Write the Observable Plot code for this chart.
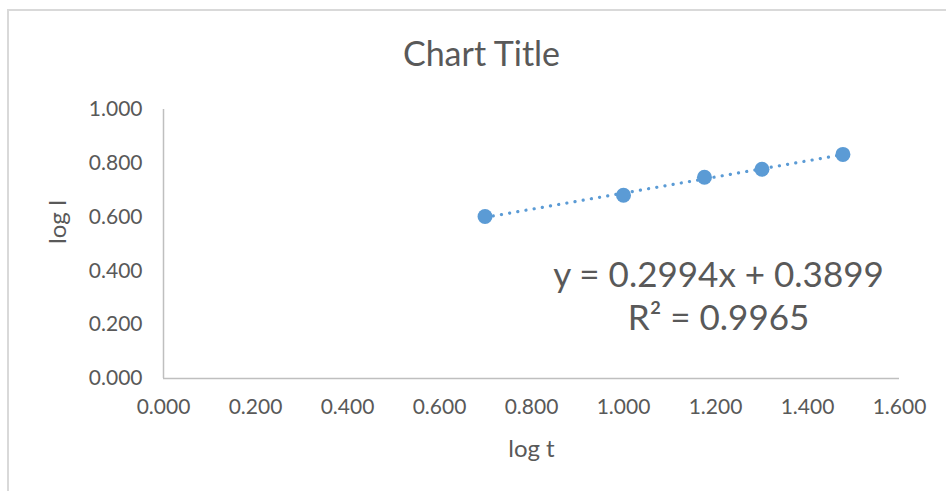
<!DOCTYPE html>
<html>
<head>
<meta charset="utf-8">
<script src="https://cdn.jsdelivr.net/npm/d3@7"></script>
<script src="https://cdn.jsdelivr.net/npm/@observablehq/plot@0.6"></script>
<style>
  html, body { margin: 0; padding: 0; background: #fff; overflow: hidden; }
  #wrap { position: relative; width: 946px; height: 491px; }
  #border { position: absolute; left: 7px; top: 9px; width: 960px; height: 520px; border: 2px solid #d9d9d9; box-sizing: border-box; }
  #chart { position: absolute; left: 0; top: 0; }
</style>
</head>
<body>
<div id="wrap"><div id="border"></div><div id="chart"></div></div>
<script>
const logT = [0.699, 1.000, 1.176, 1.301, 1.477];
const logI = [0.602, 0.681, 0.748, 0.778, 0.833];
const xTicks = [0, 0.2, 0.4, 0.6, 0.8, 1.0, 1.2, 1.4, 1.6];
const yTicks = [0, 0.2, 0.4, 0.6, 0.8, 1.0];
const titleText = "Chart Title";
const xLabel = "log t";
const yLabel = "log I";
const equationLines = ["y = 0.2994x + 0.3899", "R² = 0.9965"];

const data = logT.map((x, i) => ({x, y: logI[i]}));
const gray = "#595959";
const blue = "#5b9bd5";
const axisGray = "#bfbfbf";

const chart = Plot.plot({
  width: 946,
  height: 491,
  marginLeft: 163,
  marginRight: 47,
  marginTop: 109,
  marginBottom: 113,
  style: {fontFamily: "Lato", fontSize: "21px", color: gray, background: "transparent"},
  x: {domain: [0, 1.6], ticks: xTicks, tickFormat: d3.format(".3f"), tickSize: 0, tickPadding: 21, label: null},
  y: {domain: [0, 1], ticks: yTicks, tickFormat: d3.format(".3f"), tickSize: 0, tickPadding: 21, label: null},
  marks: [
    Plot.ruleX([0], {stroke: axisGray, strokeWidth: 1.5}),
    Plot.ruleY([0], {stroke: axisGray, strokeWidth: 1.5}),
    Plot.linearRegressionY(data, {x: "x", y: "y", ci: 0, stroke: blue, strokeWidth: 3.2, strokeDasharray: "0.1,8.2", strokeLinecap: "round"}),
    Plot.dot(data, {x: "x", y: "y", r: 7.5, fill: blue, stroke: "none"}),
    Plot.text([titleText], {frameAnchor: "top-left", dx: 318, dy: -44, lineAnchor: "bottom", textAnchor: "middle", fontSize: 34, fill: gray}),
    Plot.text([xLabel], {frameAnchor: "bottom", dy: 78, lineAnchor: "bottom", fontSize: 24, fill: gray}),
    Plot.text([yLabel], {frameAnchor: "left", dx: -105, rotate: -90, fontSize: 24, fill: gray}),
    Plot.text([equationLines.join("\n")], {frameAnchor: "top-left", dx: 555, dy: 147, lineAnchor: "top", textAnchor: "middle", fontSize: 35, lineHeight: 1.23, fill: gray})
  ]
});
document.getElementById("chart").appendChild(chart);
</script>
</body>
</html>
